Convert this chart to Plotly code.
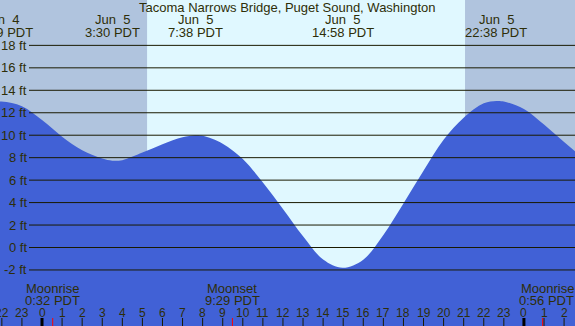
import plotly.graph_objects as go

# ---- data (hours relative to Jun 5 00:00 PDT) ----
tide_hours = [-3.0, -2.02, -1.0, 0.0, 1.0, 2.0, 3.0, 3.5, 4.0, 5.0, 6.0, 7.0, 7.63, 8.0,
              9.0, 10.0, 11.0, 12.0, 13.0, 14.0, 14.97, 16.0, 17.0, 18.0, 19.0, 20.0,
              21.0, 22.0, 22.63, 23.0, 24.0, 25.0, 26.0, 27.0]
tide_ft = [12.75, 13.0, 12.58, 11.35, 9.87, 8.66, 7.92, 7.73, 7.78, 8.45, 9.2, 9.82, 10.0, 9.95,
           9.25, 7.88, 5.79, 3.43, 1.0, -1.07, -1.8, -1.08, 1.12, 3.92, 6.83, 9.6,
           11.55, 12.84, 13.05, 13.0, 12.34, 10.95, 9.4, 7.9]

event_hours = [-2.017, 3.5, 7.633, 14.967, 22.633]
event_dates = ["Jun\u00a0\u00a04", "Jun\u00a0\u00a05", "Jun\u00a0\u00a05", "Jun\u00a0\u00a05", "Jun\u00a0\u00a05"]
event_times = ["21:59 PDT", "3:30 PDT", "7:38 PDT", "14:58 PDT", "22:38 PDT"]

moon_hours = [0.533, 9.483, 24.933]
moon_names = ["Moonrise", "Moonset", "Moonrise"]
moon_times = ["0:32 PDT", "9:29 PDT", "0:56 PDT"]

sunrise_hour = 5.233   # 5:14
sunset_hour = 21.067   # 21:04

ft_ticks = [18, 16, 14, 12, 10, 8, 6, 4, 2, 0, -2]
ft_labels = ["18 ft", "16 ft", "14 ft", "12 ft", "10 ft", "8 ft", "6 ft", "4 ft", "2 ft", "0 ft", "-2 ft"]

hour_ticks = list(range(-2, 27))
hour_labels = [str(h % 24) for h in hour_ticks]

title = "Tacoma Narrows Bridge, Puget Sound, Washington"

# ---- style ----
W, H = 575, 326
x_range = [-2.092, 26.544]
y_range = [-6.99, 22.04]
blue = "#4161D6"
day_bg = "#E0F8FF"
night_bg = "#B0C4DE"
fg = "#2E2E08"
line_col = "#1A1A00"
font = "Liberation Sans, Arial, sans-serif"

def py(px):
    return 1 - px / H

fig = go.Figure()
fig.add_trace(go.Scatter(x=[x_range[0] - 2, x_range[1] + 2], y=[-12, -12], mode="lines",
                         line=dict(width=0), hoverinfo="skip", showlegend=False))
fig.add_trace(go.Scatter(x=tide_hours, y=tide_ft, mode="lines",
                         line=dict(shape="spline", color=blue, width=0),
                         fill="tonexty", fillcolor=blue, hoverinfo="skip", showlegend=False))

shapes = []
# night shading
shapes.append(dict(type="rect", xref="x", yref="paper", x0=x_range[0] - 1, x1=sunrise_hour,
                   y0=0, y1=1, fillcolor=night_bg, line=dict(width=0), layer="below"))
shapes.append(dict(type="rect", xref="x", yref="paper", x0=sunset_hour, x1=x_range[1] + 1,
                   y0=0, y1=1, fillcolor=night_bg, line=dict(width=0), layer="below"))
# height gridlines
for v in ft_ticks:
    shapes.append(dict(type="line", xref="paper", yref="y", x0=29 / W, x1=1, y0=v, y1=v,
                       line=dict(color=line_col, width=1), layer="above"))
# hour ticks
for h in hour_ticks:
    midnight = (h % 24 == 0)
    shapes.append(dict(type="line", xref="x", yref="paper", x0=h, x1=h, y0=0, y1=8 / H,
                       line=dict(color="#000000" if midnight else line_col, width=3 if midnight else 1),
                       layer="above"))
# moon ticks
for h in moon_hours:
    shapes.append(dict(type="line", xref="x", yref="paper", x0=h, x1=h, y0=0, y1=8 / H,
                       line=dict(color="#FF0000", width=1), layer="above"))

annotations = []
annotations.append(dict(text=title, xref="paper", yref="paper", x=0.5, y=py(7.5),
                        xanchor="center", yanchor="middle", showarrow=False,
                        font=dict(size=13, color=fg, family=font), borderpad=0))
for h, d, t in zip(event_hours, event_dates, event_times):
    annotations.append(dict(text=d, xref="x", yref="paper", x=h, y=py(20), xanchor="center",
                            yanchor="middle", showarrow=False, borderpad=0,
                            font=dict(size=13, color=fg, family=font)))
    annotations.append(dict(text=t, xref="x", yref="paper", x=h, y=py(32.5), xanchor="center",
                            yanchor="middle", showarrow=False, borderpad=0,
                            font=dict(size=13, color=fg, family=font)))
for i, (h, n, t) in enumerate(zip(moon_hours, moon_names, moon_times)):
    last = (i == len(moon_hours) - 1)
    kw = dict(xref="paper", x=1.0, xanchor="right") if last else dict(xref="x", x=h, xanchor="center")
    annotations.append(dict(text=n, yref="paper", y=py(288), yanchor="middle", showarrow=False,
                            borderpad=0, font=dict(size=13, color=fg, family=font), **kw))
    annotations.append(dict(text=t, yref="paper", y=py(300), yanchor="middle", showarrow=False,
                            borderpad=0, font=dict(size=13, color=fg, family=font), **kw))
for h, lab in zip(hour_ticks, hour_labels):
    annotations.append(dict(text=lab, xref="x", yref="paper", x=h, y=py(312.5), xanchor="center",
                            yanchor="middle", showarrow=False, borderpad=0,
                            font=dict(size=12, color=fg, family=font)))
for v, lab in zip(ft_ticks, ft_labels):
    annotations.append(dict(text=lab, xref="paper", yref="y", x=27.5 / W, y=v, xanchor="right",
                            yanchor="middle", showarrow=False, borderpad=0,
                            font=dict(size=13, color=fg, family=font)))

fig.update_layout(
    width=W, height=H, autosize=False,
    margin=dict(l=0, r=0, t=0, b=0, pad=0),
    paper_bgcolor=day_bg, plot_bgcolor=day_bg,
    xaxis=dict(range=x_range, visible=False, fixedrange=True),
    yaxis=dict(range=y_range, visible=False, fixedrange=True),
    shapes=shapes, annotations=annotations, showlegend=False,
    font=dict(family=font, color=fg),
)

fig.write_html("out.html", config={"displayModeBar": False},
               post_script="document.body.style.margin='0';document.body.style.padding='0';")
